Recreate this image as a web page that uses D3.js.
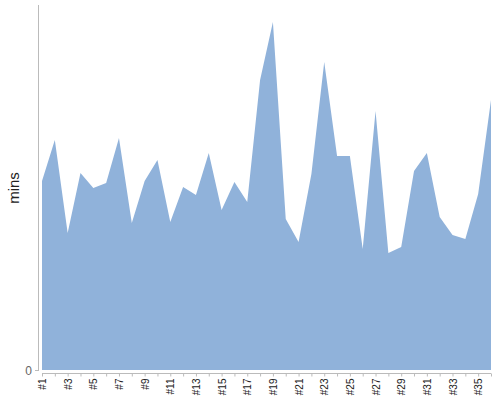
<!DOCTYPE html>
<html lang="en">
<head>
<meta charset="utf-8">
<title>mins</title>
<script src="https://cdn.jsdelivr.net/npm/d3@7"></script>
<style>
  body { margin: 0; background: #fff; }
  text { font-family: "Liberation Sans", Arial, sans-serif; }
</style>
</head>
<body>
<script>
// data
var labels = [];
for (var i = 1; i <= 36; i++) labels.push("#" + i);
var mins = [189, 230, 137, 197, 182, 187, 232, 147, 189, 210, 148, 183,
            175, 217, 160, 188, 168, 290, 348, 151, 128, 196, 308, 214,
            214, 121, 259, 117, 123, 199, 217, 153, 135, 131, 176, 270];
var yTicks = [0];

var width = 500, height = 400;
var plot_left = 42, plot_right = 491, plot_top = 5, plot_bottom = 370;

var svg = d3.select("body").append("svg")
  .attr("width", width).attr("height", height);

var x = d3.scalePoint().domain(labels).range([plot_left, plot_right]);
var y = d3.scaleLinear().domain([0, 365]).range([plot_bottom, plot_top]);

// area
var area = d3.area()
  .x(function (d, i) { return x(labels[i]); })
  .y0(y(0))
  .y1(function (d) { return y(d); });

svg.append("path")
  .datum(mins)
  .attr("d", area)
  .attr("fill", "#90b2da");

// y axis
svg.append("line")
  .attr("x1", 38.5).attr("x2", 38.5)
  .attr("y1", plot_top).attr("y2", plot_bottom + 1)
  .attr("stroke", "#bbb");

svg.selectAll(".ytick").data(yTicks).enter().append("line")
  .attr("x1", 35).attr("x2", 38.5)
  .attr("y1", function (d) { return y(d) + 0.5; })
  .attr("y2", function (d) { return y(d) + 0.5; })
  .attr("stroke", "#bbb");

svg.selectAll(".ylab").data(yTicks).enter().append("text")
  .attr("x", 32)
  .attr("y", function (d) { return y(d) + 1; })
  .attr("dy", "0.35em")
  .attr("text-anchor", "end")
  .style("font-size", "12px")
  .attr("fill", "#666")
  .text(function (d) { return d; });

svg.append("text")
  .attr("transform", "translate(19," + 188 + ") rotate(-90)")
  .attr("text-anchor", "middle")
  .style("font-size", "15px")
  .attr("fill", "#222")
  .text("mins");

// x axis
var xAxis = d3.axisBottom(x)
  .tickSize(3)
  .tickFormat(function (d, i) { return i % 2 === 0 ? d : ""; });

var gx = svg.append("g")
  .attr("transform", "translate(0,373.5)")
  .call(xAxis);

gx.select(".domain").attr("stroke", "#bbb").attr("d", "M" + plot_left + ",0H" + plot_right);
gx.selectAll(".tick line").attr("stroke", "#bbb");
gx.selectAll(".tick text")
  .attr("transform", "rotate(-90)")
  .attr("x", -5)
  .attr("y", 0)
  .attr("dy", "0.35em")
  .attr("text-anchor", "end")
  .style("font-family", "'Liberation Sans', Arial, sans-serif")
  .style("font-size", "10px")
  .attr("fill", "#222");
</script>
</body>
</html>
